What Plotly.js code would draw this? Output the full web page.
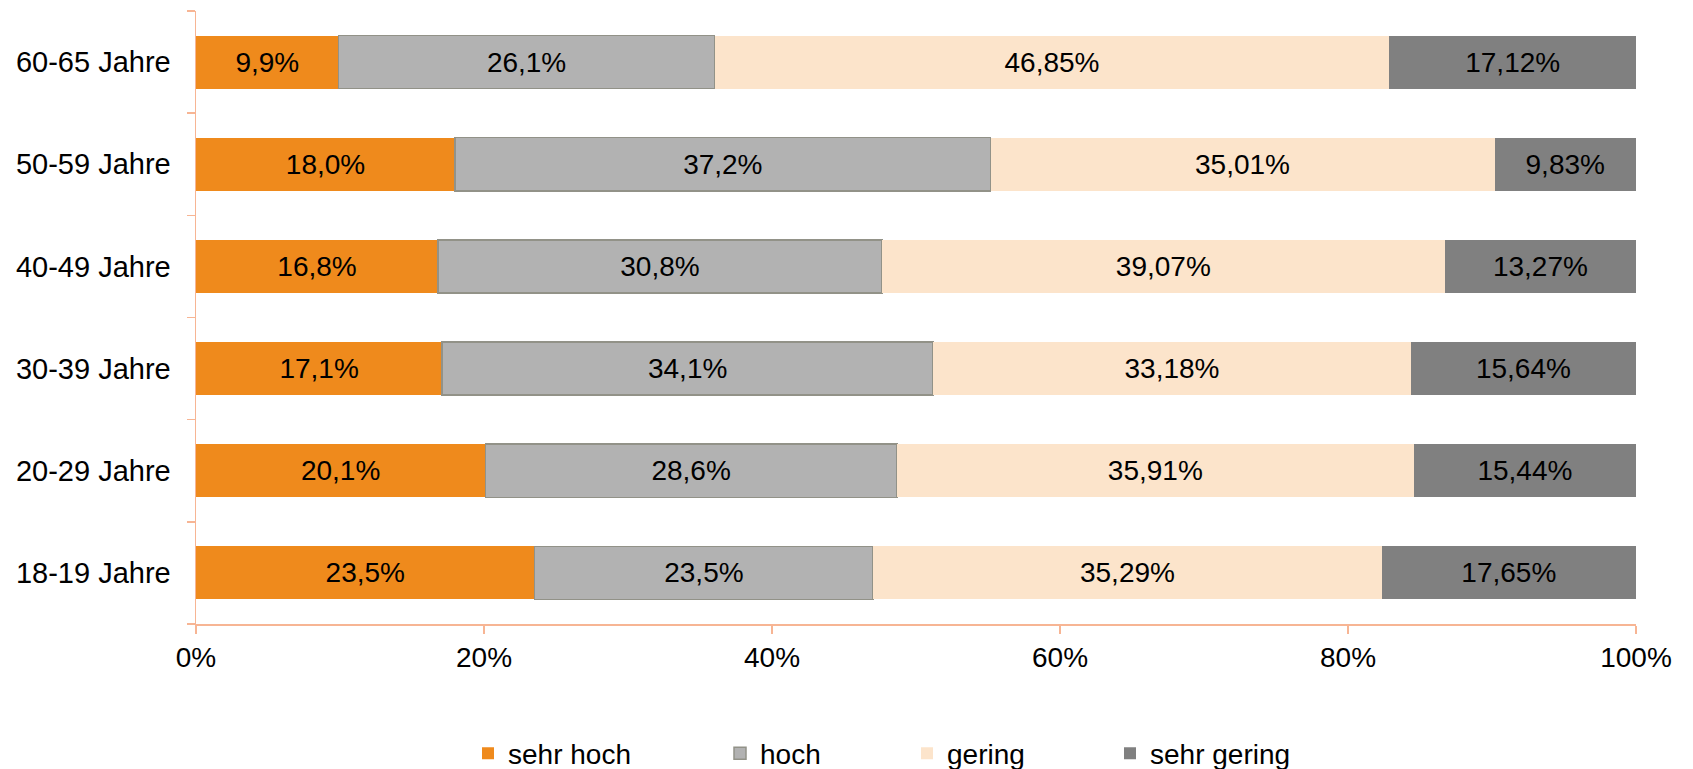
<!DOCTYPE html>
<html>
<head>
<meta charset="utf-8">
<script src="https://cdn.plot.ly/plotly-3.0.1.min.js"></script>
<style>html,body{margin:0;padding:0;background:#fff;}#chart{width:1693px;height:769px;}</style>
</head>
<body>
<div id="chart"></div>
<script>
var categories = ["18-19 Jahre", "20-29 Jahre", "30-39 Jahre", "40-49 Jahre", "50-59 Jahre", "60-65 Jahre"];
var sehrHoch   = [23.5, 20.1, 17.1, 16.8, 18.0, 9.9];
var hoch       = [23.5, 28.6, 34.1, 30.8, 37.2, 26.1];
var gering     = [35.29, 35.91, 33.18, 39.07, 35.01, 46.85];
var sehrGering = [17.65, 15.44, 15.64, 13.27, 9.83, 17.12];
var xTickVals  = [0, 20, 40, 60, 80, 100];
var xTickText  = ["0%", "20%", "40%", "60%", "80%", "100%"];

function fmt(arr, d) {
  return arr.map(function (v) { return v.toFixed(d).replace(".", ",") + "%"; });
}

var font = "Liberation Sans, Arial, sans-serif";
var axisColor = "#F7B594";

function mk(name, vals, dec, color, legendId, line) {
  return {
    type: "bar", orientation: "h", name: name, legend: legendId,
    y: categories, x: vals,
    text: fmt(vals, dec), textposition: "inside", insidetextanchor: "middle",
    constraintext: "none",
    insidetextfont: {family: font, size: 28, color: "#000"},
    marker: {color: color, line: line || {width: 0}},
    hoverinfo: "x+y+name"
  };
}

var data = [
  mk("sehr hoch", sehrHoch, 1, "#EF8A1C", "legend"),
  mk("hoch", hoch, 1, "#B2B2B2", "legend2", {color: "#929288", width: 1.5}),
  mk("gering", gering, 2, "#FCE4CB", "legend3"),
  mk("sehr gering", sehrGering, 2, "#808080", "legend4")
];

function leg(xpx) {
  return {
    orientation: "h", xref: "container", yref: "container",
    x: xpx / 1693, xanchor: "left", y: 0.02, yanchor: "middle",
    font: {family: font, size: 28, color: "#000"},
    bgcolor: "rgba(0,0,0,0)"
  };
}

var layout = {
  width: 1693, height: 769,
  barmode: "stack", barnorm: "percent", bargap: 0.48,
  margin: {l: 195.5, r: 57, t: 11, b: 145},
  paper_bgcolor: "#fff", plot_bgcolor: "#fff",
  font: {family: font, size: 28, color: "#000"},
  xaxis: {
    range: [0, 100], tickvals: xTickVals, ticktext: xTickText,
    showgrid: false, zeroline: false,
    showline: true, linecolor: axisColor, linewidth: 1.5,
    ticks: "outside", ticklen: 8, tickcolor: axisColor, tickwidth: 1.5,
    ticklabelstandoff: 0,
    tickfont: {family: font, size: 28, color: "#000"}
  },
  yaxis: {
    type: "category", categoryorder: "array", categoryarray: categories,
    showgrid: false, zeroline: false,
    showline: true, linecolor: axisColor, linewidth: 1.5,
    ticks: "outside", ticklen: 8, tickcolor: axisColor, tickwidth: 1.5,
    tickson: "boundaries", ticklabelstandoff: 18,
    tickfont: {family: font, size: 29, color: "#000"}
  },
  showlegend: true,
  legend: leg(468),
  legend2: leg(720),
  legend3: leg(907),
  legend4: leg(1110)
};

Plotly.newPlot("chart", data, layout, {displayModeBar: false, staticPlot: true});
</script>
</body>
</html>
